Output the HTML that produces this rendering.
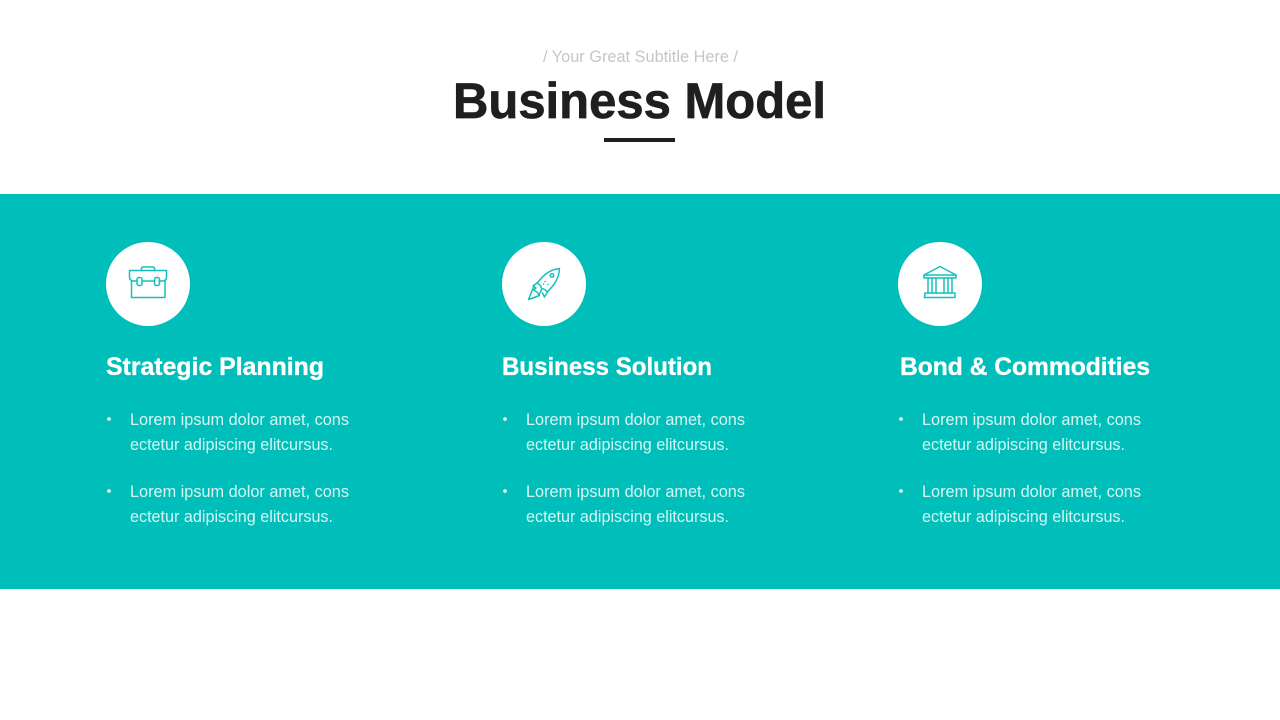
<!DOCTYPE html>
<html>
<head>
<meta charset="utf-8">
<style>
html,body{margin:0;padding:0;background:#fff}
body{width:1280px;height:720px;overflow:hidden}
svg{display:block}
text{font-family:"Liberation Sans",sans-serif}
.h{font-size:25px;font-weight:bold;fill:#fff;stroke:#fff;stroke-width:.35}
.b{font-size:17px;fill:#d6f5f3}
.i{fill:none;stroke:#14c0bb;stroke-width:1.5;stroke-linejoin:round;stroke-linecap:round}
</style>
</head>
<body>
<svg width="1280" height="720" viewBox="0 0 1280 720" xmlns="http://www.w3.org/2000/svg">
<rect width="1280" height="720" fill="#fff"/>
<text x="543" y="62" font-size="17" fill="#c6c6c6" textLength="195" lengthAdjust="spacingAndGlyphs">/ Your Great Subtitle Here /</text>
<text x="453" y="118" font-size="50" font-weight="bold" fill="#1f1f1f" stroke="#1f1f1f" stroke-width=".7" textLength="373" lengthAdjust="spacingAndGlyphs">Business Model</text>
<rect x="604" y="138" width="71" height="4" fill="#1f1f1f"/>
<rect x="0" y="194" width="1280" height="395" fill="#00bfba"/>

<circle cx="148" cy="284" r="42" fill="#fff"/>
<circle cx="544" cy="284" r="42" fill="#fff"/>
<circle cx="940" cy="284" r="42" fill="#fff"/>

<!-- briefcase -->
<g class="i">
<path d="M131.500 281V297.500H165V281"/>
<path d="M137 281H134Q129.500 281 129.500 277V270.500H166.500V277Q166.500 281 162 281H159M142 281H154.500"/>
<path d="M141.500 270.500V268.500Q141.500 267 143.500 267H152.500Q154.500 267 154.500 268.500V270.500"/>
<rect x="137" y="277.500" width="5" height="8" rx="2"/>
<rect x="154.500" y="277.500" width="5" height="8" rx="2"/>
</g>

<!-- rocket -->
<g class="i">
<path d="M559.500 268.500Q549 270 543 276.500L537 283Q541 285 541.500 288.500Q545 289 547.500 292L553.500 285Q559 278 559.500 268.500Z"/>
<circle cx="552" cy="275.500" r="1.800"/>
<path d="M537 283L533 286L536 288L533.500 290L537 292L539 295L541.500 290"/>
<path d="M534 286L528.500 299.500L539.500 295.500"/>
<path d="M547.500 292L544.500 297L542.500 293"/>
<path d="M545 281.500h.1M548 284.500h.1M543.500 284h.1"/>
</g>

<!-- bank -->
<g class="i">
<path d="M940 266.500L924 275V278H956V275Z"/>
<path d="M924 275H956"/>
<path d="M928 278V293M932 278V293M936 278V293M944 278V293M948 278V293M952 278V293"/>
<path d="M925 293H955V297.500H924.500Z"/>
</g>

<text class="h" x="106" y="375" textLength="218" lengthAdjust="spacingAndGlyphs">Strategic Planning</text>
<text class="h" x="502" y="375" textLength="210" lengthAdjust="spacingAndGlyphs">Business Solution</text>
<text class="h" x="900" y="375" textLength="250" lengthAdjust="spacingAndGlyphs">Bond &amp; Commodities</text>

<g fill="#fff">
<circle cx="109" cy="419" r="1.800"/><circle cx="109" cy="491" r="1.800"/>
<circle cx="505" cy="419" r="1.800"/><circle cx="505" cy="491" r="1.800"/>
<circle cx="901" cy="419" r="1.800"/><circle cx="901" cy="491" r="1.800"/>
</g>

<g class="t">
<text class="b" x="130" y="425" textLength="219" lengthAdjust="spacingAndGlyphs">Lorem ipsum dolor amet, cons</text>
<text class="b" x="130" y="450" textLength="203" lengthAdjust="spacingAndGlyphs">ectetur adipiscing elitcursus.</text>
<text class="b" x="130" y="497" textLength="219" lengthAdjust="spacingAndGlyphs">Lorem ipsum dolor amet, cons</text>
<text class="b" x="130" y="522" textLength="203" lengthAdjust="spacingAndGlyphs">ectetur adipiscing elitcursus.</text>

<text class="b" x="526" y="425" textLength="219" lengthAdjust="spacingAndGlyphs">Lorem ipsum dolor amet, cons</text>
<text class="b" x="526" y="450" textLength="203" lengthAdjust="spacingAndGlyphs">ectetur adipiscing elitcursus.</text>
<text class="b" x="526" y="497" textLength="219" lengthAdjust="spacingAndGlyphs">Lorem ipsum dolor amet, cons</text>
<text class="b" x="526" y="522" textLength="203" lengthAdjust="spacingAndGlyphs">ectetur adipiscing elitcursus.</text>

<text class="b" x="922" y="425" textLength="219" lengthAdjust="spacingAndGlyphs">Lorem ipsum dolor amet, cons</text>
<text class="b" x="922" y="450" textLength="203" lengthAdjust="spacingAndGlyphs">ectetur adipiscing elitcursus.</text>
<text class="b" x="922" y="497" textLength="219" lengthAdjust="spacingAndGlyphs">Lorem ipsum dolor amet, cons</text>
<text class="b" x="922" y="522" textLength="203" lengthAdjust="spacingAndGlyphs">ectetur adipiscing elitcursus.</text>
</g>
</svg>
</body>
</html>
